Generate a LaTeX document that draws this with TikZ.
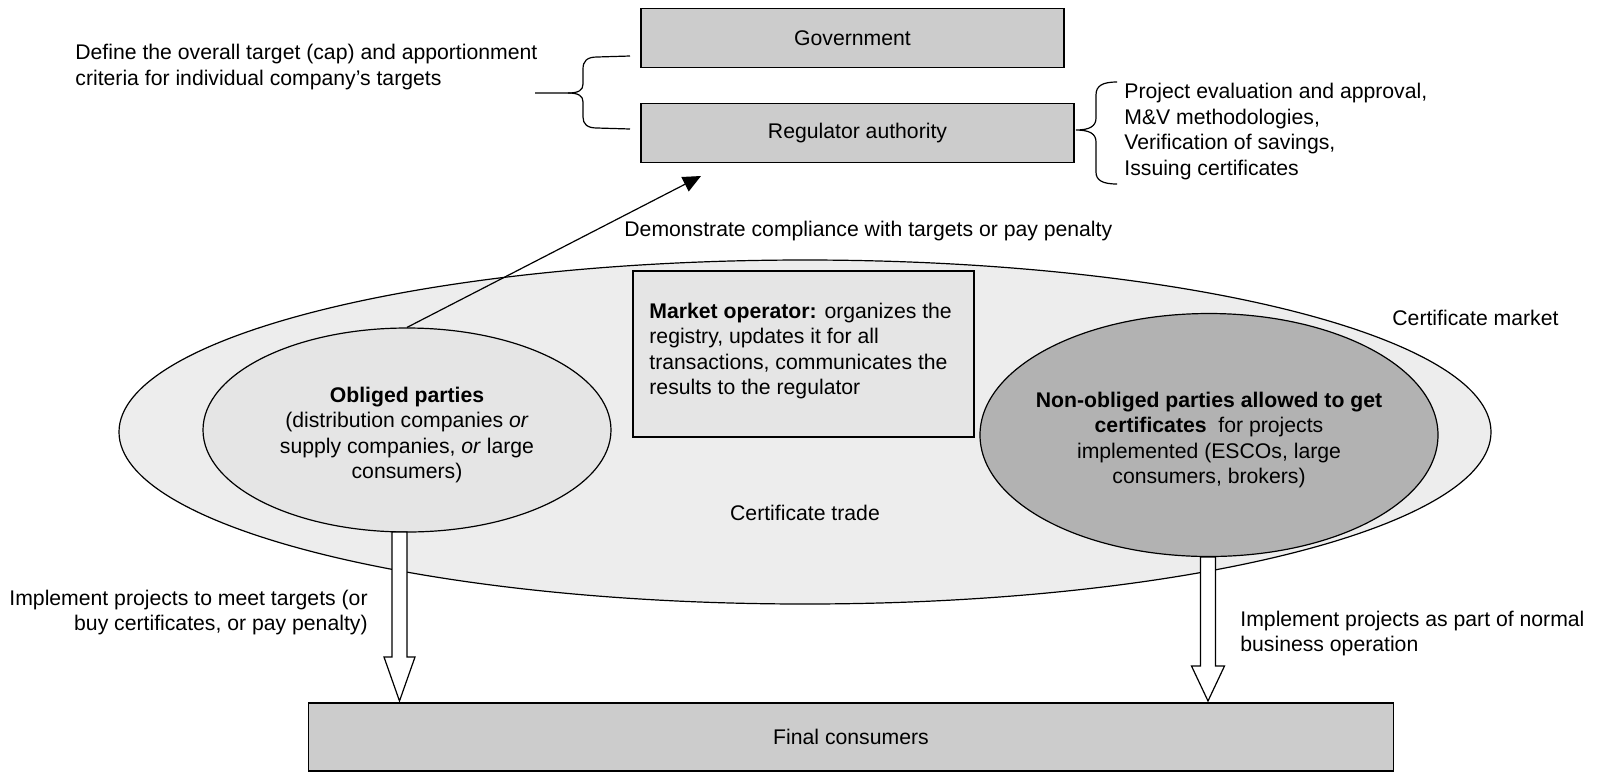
\documentclass[tikz,border=0pt]{standalone}
\usepackage{fontspec}
\setmainfont{Liberation Sans}
\usetikzlibrary{shapes.geometric,arrows.meta,calc}
\definecolor{boxgray}{gray}{0.80}
\definecolor{marketfill}{gray}{0.90}
\definecolor{bigfill}{gray}{0.93}
\definecolor{oblfill}{gray}{0.90}
\definecolor{nonfill}{gray}{0.70}
\begin{document}
\begin{tikzpicture}[x=0.5pt,y=-0.5pt,
  every node/.style={font=\fontsize{10.6}{12.75}\selectfont, inner sep=0pt},
  graybox/.style={draw, line width=0.6pt, fill=boxgray, rectangle},
  ell/.style={draw, line width=0.6pt, ellipse},
  bracepath/.style={draw, line width=0.6pt},
  blockarrow/.style={draw, line width=0.6pt, fill=white},
  plain/.style={align=left}
]
\useasboundingbox (0,0) rectangle (1602,773);

% certificate market
\node[ell, fill=bigfill, minimum width=686pt, minimum height=172pt] (market) at (805,432) {};
\node[draw, line width=0.6pt, fill=marketfill, minimum width=170.5pt, minimum height=83pt] (operator) at (803.5,354) {};
\node[plain, anchor=west] (optext) at (649,351) {\textbf{Market operator:} organizes the\\registry, updates it for all\\transactions, communicates the\\results to the regulator};

\node[ell, fill=oblfill, minimum width=204pt, minimum height=102pt] (obliged) at (407,430) {};
\node[align=center] (obltext) at (407,435)
  {\textbf{Obliged parties}\\(distribution companies \textit{or}\\supply companies, \textit{or} large\\consumers)};
\node[ell, fill=nonfill, minimum width=229pt, minimum height=121.5pt] (nonobl) at (1209,435) {};
\node[align=center] (nontext) at (1209,440)
  {\textbf{Non-obliged parties allowed to get}\\\textbf{certificates}~ for projects\\implemented (ESCOs, large\\consumers, brokers)};

\node (trade) at (805,513) {Certificate trade};
\node[anchor=west] (mktlabel) at (1392,318) {Certificate market};

% top boxes
\node[graybox, minimum width=211.5pt, minimum height=29.5pt] (gov) at (852.5,38) {Government};
\node[graybox, minimum width=216.5pt, minimum height=29.5pt] (reg) at (857.5,133) {Regulator authority};

% final consumers
\node[graybox, minimum width=542.5pt, minimum height=34pt] (final) at (851,737) {Final consumers};

% block arrows
\draw[blockarrow] (392,532) -- (407,532) -- (407,657) -- (415,657) -- (399.5,701) -- (384,657) -- (392,657) -- cycle;
\draw[blockarrow] (1200.5,557) -- (1215.5,557) -- (1215.5,666) -- (1224.5,666) -- (1208,701) -- (1191.5,666) -- (1200.5,666) -- cycle;

\node[align=right, anchor=east] (impl1) at (368,612.5) {Implement projects to meet targets (or\\buy certificates, or pay penalty)};
\node[plain, anchor=west] (impl2) at (1240,633.5) {Implement projects as part of normal\\business operation};

% left brace and text
\node[plain, anchor=west] (define) at (75,67) {Define the overall target (cap) and apportionment\\criteria for individual company’s targets};
\draw[bracepath] (630,56) -- (597,57) .. controls (587,57) and (583,61) .. (583,69) -- (583,84) .. controls (583,90) and (579,93) .. (568,93) -- (535,93);
\draw[bracepath] (568,93) .. controls (579,93) and (583,96) .. (583,102) -- (583,117) .. controls (583,124) and (587,128) .. (597,128) -- (630,129);

% right brace and text
\draw[bracepath] (1117,82) .. controls (1102,82) and (1096,86) .. (1096,95) -- (1096,118) .. controls (1096,126) and (1090,130) .. (1076,130) .. controls (1090,130) and (1096,134) .. (1096,142) -- (1096,172) .. controls (1096,180) and (1102,184) .. (1117,184);
\node[plain, anchor=west] (regtasks) at (1124,131.5) {Project evaluation and approval,\\M\&V methodologies,\\Verification of savings,\\Issuing certificates};

% compliance arrow
\coordinate (regtip) at (701,176);
\draw[line width=0.6pt, -{Triangle[length=9pt,width=8pt]}] (obliged.north) -- (regtip);
\node[anchor=west] (comply) at (624,231) {Demonstrate compliance with targets or pay penalty};
\end{tikzpicture}
\end{document}
